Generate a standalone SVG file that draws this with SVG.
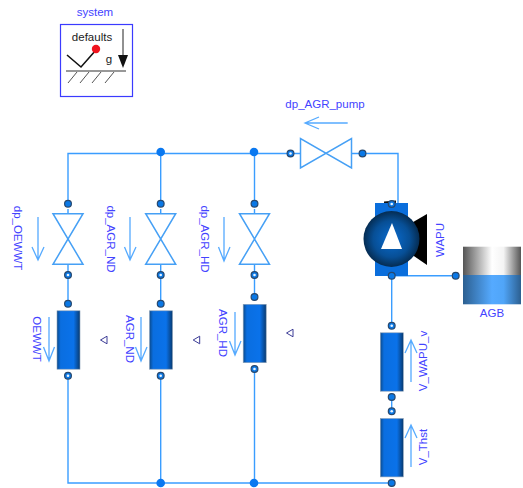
<svg xmlns="http://www.w3.org/2000/svg" width="523" height="488" viewBox="0 0 523 488">
<style>
text{font-family:"Liberation Sans",Arial,sans-serif;font-size:11.5px;fill:#4343ff;text-anchor:middle}
.w{fill:none;stroke:#3a9dff;stroke-width:1.4}
.v{fill:none;stroke:#46a0f5;stroke-width:1.5}
.a{fill:none;stroke:#55aaff;stroke-width:1.3}
.j{fill:#0a78f0}
.pf{fill:#0a78e6;stroke:#27486e;stroke-width:1.2}
.tri{fill:none;stroke:#3c3c96;stroke-width:1}
</style>
<defs>
<linearGradient id="pipe" x1="0" x2="1" y1="0" y2="0"><stop offset="0" stop-color="#0a4a8c"/><stop offset=".16" stop-color="#0a6ee0"/><stop offset=".72" stop-color="#0a72ea"/><stop offset="1" stop-color="#083a70"/></linearGradient>
<radialGradient id="ball" cx=".5" cy=".5" r=".5"><stop offset="0" stop-color="#0a6cd0"/><stop offset=".65" stop-color="#074f96"/><stop offset="1" stop-color="#052c52"/></radialGradient>
<linearGradient id="air" x1="0" x2="1" y1="0" y2="0"><stop offset="0" stop-color="#555"/><stop offset=".5" stop-color="#fff"/><stop offset=".7" stop-color="#f4f4f4"/><stop offset="1" stop-color="#555"/></linearGradient>
<linearGradient id="liq" x1="0" x2="1" y1="0" y2="0"><stop offset="0" stop-color="#2c5f90"/><stop offset=".5" stop-color="#55aaff"/><stop offset=".7" stop-color="#50a5f8"/><stop offset="1" stop-color="#2c5f90"/></linearGradient>
<g id="port"><circle r="3.4" class="pf"/></g>
<g id="hport"><circle r="3.4" class="pf"/><circle r="1.3" fill="#e8f4ff"/></g>
<path id="vv" class="v" d="M-15-25.3H15L-15 25.3H15Z"/>
<rect id="pp" x="-11.5" y="-29.2" width="23" height="58.4" fill="url(#pipe)" stroke="#8aa0b8" stroke-width=".6"/>
<path id="tr" class="tri" d="M0-3.5 3.8 3H-3.8Z"/>
</defs>

<g id="connectors">
<path class="w" d="M68 200V153.500H290.500"/>
<path class="w" d="M160.700 153.500V200"/>
<path class="w" d="M254.500 153.500V200"/>
<path class="w" d="M362.500 153.500H398V205H391.700"/>
<path class="w" d="M68 209V214M160.700 209V214M254.500 209V214"/>
<path class="w" d="M68 264V300M160.700 264V300M254.500 264V294"/>
<path class="w" d="M68 379V483H391.700"/>
<path class="w" d="M160.700 372V483M254.500 372V483"/>
<path class="w" d="M391.700 275.700H452M391.700 275.700V322"/>
<path class="w" d="M391.700 397V411"/>
<path class="w" d="M294 153.500H300M351.500 153.500H359"/>
<circle class="j" cx="160.700" cy="152" r="4.300"/>
<circle class="j" cx="254" cy="152" r="4.300"/>
<circle class="j" cx="160.700" cy="483" r="4.300"/>
<circle class="j" cx="254" cy="483" r="4.300"/>
</g>

<g id="system">
<rect x="60.500" y="24.500" width="72" height="72" fill="#fff" stroke="#3b3bff" stroke-width="1.200"/>
<text x="95" y="15.500">system</text>
<text x="92" y="40.500" style="fill:#222">defaults</text>
<path d="M67 55 81 67 96 50" fill="none" stroke="#111" stroke-width="1.600"/>
<circle cx="96" cy="49" r="4.200" fill="#f0141e"/>
<text x="109" y="63" style="fill:#222">g</text>
<path d="M66 71H126" stroke="#333" stroke-width="1.100"/>
<path d="M68 83 77 72M80 83 89 72M92 83 101 72M105 83 114 72" stroke="#555" fill="none"/>
<path d="M123 29V56" stroke="#222" stroke-width="1"/>
<path d="M118 55H128L123 68Z" fill="#111"/>
</g>

<g id="dp_OEWWT">
<use href="#vv" x="68" y="239"/>
<use href="#port" x="68" y="203.700"/>
<use href="#hport" x="68" y="275"/>
<path class="a" d="M38 217V260M32 247 38 260 44 247"/>
<text transform="translate(14 238) rotate(90)">dp_OEWWT</text>
</g>
<g id="dp_AGR_ND">
<use href="#vv" x="160.700" y="239"/>
<use href="#port" x="160.700" y="203.700"/>
<use href="#hport" x="160.700" y="275"/>
<path class="a" d="M130 217V260M124.500 247 130 260 136 247"/>
<text transform="translate(107 239) rotate(90)">dp_AGR_ND</text>
</g>
<g id="dp_AGR_HD">
<use href="#vv" x="254.500" y="239"/>
<use href="#port" x="254.500" y="203.700"/>
<use href="#hport" x="254.500" y="275"/>
<path class="a" d="M224 217V261M218.500 247 224 261 230 247"/>
<text transform="translate(200.500 239) rotate(90)">dp_AGR_HD</text>
</g>
<g id="dp_AGR_pump">
<path class="v" d="M300.500 138.500V168L351.500 138.500V168Z"/>
<use href="#hport" x="290.500" y="153.500"/>
<use href="#port" x="362.500" y="153.500"/>
<path class="a" d="M347.700 123H305M319 117 305 123 319 129"/>
<text x="325" y="108">dp_AGR_pump</text>
</g>

<g id="OEWWT">
<use href="#pp" x="68.500" y="340"/>
<use href="#port" x="68" y="303.700"/>
<use href="#hport" x="68" y="375.700"/>
<path class="a" d="M49 317V361M43.500 347 49 361 54.500 347"/>
<text transform="translate(33 339) rotate(90)">OEWWT</text>
<use href="#tr" x="104" y="340" transform="rotate(-90 104 340)"/>
</g>
<g id="AGR_ND">
<use href="#pp" x="161" y="340"/>
<use href="#port" x="160.700" y="303.700"/>
<use href="#hport" x="160.700" y="375.700"/>
<path class="a" d="M141 317V361M135.500 347 141 361 147 347"/>
<text transform="translate(125.500 339) rotate(90)">AGR_ND</text>
<use href="#tr" x="196.700" y="340" transform="rotate(-90 196.700 340)"/>
</g>
<g id="AGR_HD">
<use href="#pp" x="254.700" y="333.500"/>
<use href="#port" x="254.500" y="297"/>
<use href="#hport" x="254.500" y="369"/>
<path class="a" d="M235 312V355M229.500 341 235 355 241 341"/>
<text transform="translate(219 333) rotate(90)">AGR_HD</text>
<use href="#tr" x="290" y="333" transform="rotate(-90 290 333)"/>
</g>

<g id="WAPU">
<path d="M384 201.500 396 200.500V203H384Z" fill="#111"/>
<rect x="375" y="203" width="33" height="73" fill="#0a6edc"/>
<path d="M408 225 427 214V265L408 252Z" fill="#000"/>
<circle cx="391.500" cy="239" r="28" fill="url(#ball)"/>
<path d="M392 223 402 249H381Z" fill="#fff"/>
<use href="#hport" x="391.700" y="204"/>
<use href="#port" x="391.700" y="275.700"/>
<text transform="translate(443.500 240) rotate(-90)">WAPU</text>
</g>

<g id="AGB">
<rect x="463" y="246.700" width="58" height="28.300" fill="url(#air)"/>
<rect x="463" y="275" width="58" height="29.300" fill="url(#liq)"/>
<use href="#port" x="455.700" y="275.700"/>
<text x="492" y="317">AGB</text>
</g>

<g id="V_WAPU_v">
<use href="#pp" x="391.800" y="362"/>
<use href="#hport" x="391.700" y="325.700"/>
<use href="#port" x="391.700" y="397"/>
<path class="a" d="M411 382V340M405 353 411 340 417 353"/>
<text transform="translate(427 361) rotate(-90)">V_WAPU_v</text>
</g>
<g id="V_Thst">
<use href="#pp" x="391.800" y="447.700"/>
<use href="#hport" x="391.700" y="411.300"/>
<use href="#port" x="391.700" y="483"/>
<path class="a" d="M411 467V425M405 438 411 425 417 438"/>
<text transform="translate(427 447) rotate(-90)">V_Thst</text>
</g>
</svg>
